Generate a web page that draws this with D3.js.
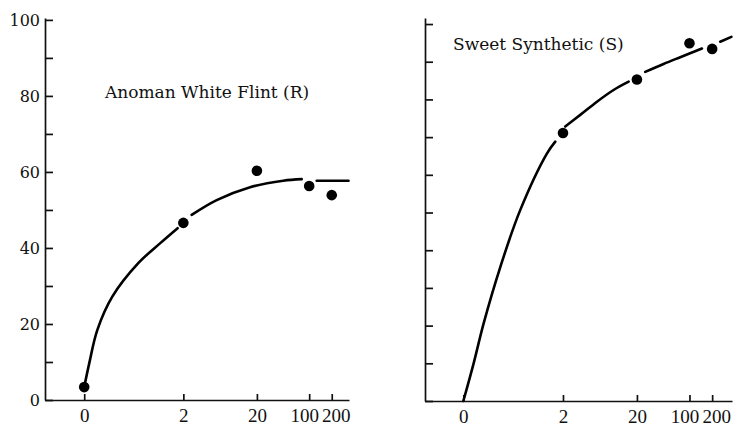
<!DOCTYPE html>
<html lang="en">
<head>
<meta charset="utf-8">
<title>Anoman White Flint / Sweet Synthetic</title>
<style>
  body { margin: 0; background: #fff; }
  svg { display: block; font-family: "DejaVu Serif", "Liberation Serif", serif; }
  .axis path, .axis line { stroke: #111; stroke-width: 1.7px; }
  .axis text { fill: #111; }
  .yaxis text { font-size: 16px; font-family: "DejaVu Serif", serif; }
  .xaxis text { font-size: 19px; font-family: "Liberation Serif", serif; }
  .curve { fill: none; stroke: #000; stroke-width: 2.6px; stroke-linecap: round; }
  .pt { fill: #000; }
  .title { font-size: 17px; fill: #111; font-family: "DejaVu Serif", serif; }
</style>
<script src="https://d3js.org/d3.v7.min.js"></script>
</head>
<body>
<script>
// x tick doses (0 plotted on log(dose + 0.1))
const doses = [0, 2, 20, 100, 200];
const doseLabels = ["0", "2", "20", "100", "200"];
const yTicks = [0, 10, 20, 30, 40, 50, 60, 70, 80, 90, 100];
const yLabels = [0, 20, 40, 60, 80, 100];

// Anoman White Flint (R)
const rDoses = [0, 2, 20, 100, 200];
const rValues = [3.4, 46.6, 60.3, 56.3, 53.9];
const rCurveDose = [0, 0.0169, 0.0494, 0.137, 0.426, 0.925, 1.66, null, 2.61, 5.75, 16.2, 45.1, 79.4, null, 126, 335];
const rCurveVal  = [3.4, 9.7, 18.4, 27.2, 36.0, 41.2, 45.2, null, 48.7, 52.6, 56.0, 57.7, 58.1, null, 57.7, 57.7];

// Sweet Synthetic (S)
const sDoses = [2, 20, 100, 200];
const sValues = [71.1, 85.3, 94.9, 93.4];
const sCurveDose = [0, 0.037, 0.086, 0.21, 0.47, 1.19, 1.56, null, 2.15, 3.46, 5.83, 9.75, 15.5, null, 25.8, 45.2, 75.4, 146.4, null, 256, 360];
const sCurveVal  = [0, 10.0, 20.6, 35.6, 50.7, 65.7, 68.8, null, 72.8, 75.9, 79.4, 82.5, 84.7, null, 87.3, 89.4, 91.2, 93.5, null, 95.3, 96.6];

const width = 740, height = 429;
const svg = d3.select("body").append("svg")
    .attr("width", width)
    .attr("height", height);

const panels = [
  { title: "Anoman White Flint (R)", tx: 105, ty: 98, labels: true,
    x: d3.scaleLog().domain([0.03, 340]).range([45, 349]),
    y: d3.scaleLinear().domain([0, 100.5]).range([400, 18]),
    pd: rDoses, pv: rValues, cd: rCurveDose, cv: rCurveVal },
  { title: "Sweet Synthetic (S)", tx: 453, ty: 50, labels: false,
    x: d3.scaleLog().domain([0.031, 367]).range([425, 732]),
    y: d3.scaleLinear().domain([0, 101.6]).range([401, 18]),
    pd: sDoses, pv: sValues, cd: sCurveDose, cv: sCurveVal }
];

panels.forEach(p => {
  const xp = d => p.x(d + 0.1);
  const x0 = p.x.range()[0];

  // y axis, ticks pointing inward
  svg.append("g")
      .attr("class", "axis yaxis")
      .attr("transform", `translate(${x0},0)`)
      .call(d3.axisLeft(p.y)
          .tickValues(yTicks)
          .tickSizeInner(-8)
          .tickSizeOuter(0)
          .tickPadding(5)
          .tickFormat(v => p.labels && yLabels.includes(v) ? v : ""));

  // x axis, ticks pointing up
  const gx = svg.append("g")
      .attr("class", "axis xaxis")
      .attr("transform", `translate(0,${p.y(0)})`)
      .call(d3.axisBottom(p.x)
          .tickValues(doses.map(d => d + 0.1))
          .tickSizeInner(-6)
          .tickSizeOuter(0)
          .tickPadding(9)
          .tickFormat((d, i) => doseLabels[i]));
  // spread the crowded 100 / 200 labels apart a little
  gx.selectAll(".tick text")
      .attr("dx", (d, i) => i === 3 ? -5 : i === 4 ? 4 : 0);

  // fitted curve, broken around the points
  const line = d3.line()
      .defined(d => d[0] !== null)
      .x(d => xp(d[0]))
      .y(d => p.y(d[1]))
      .curve(d3.curveCatmullRom);
  svg.append("path")
      .attr("class", "curve")
      .attr("d", line(d3.zip(p.cd, p.cv)));

  svg.selectAll(null)
      .data(d3.zip(p.pd, p.pv))
      .enter()
      .append("circle")
      .attr("class", "pt")
      .attr("cx", d => xp(d[0]))
      .attr("cy", d => p.y(d[1]))
      .attr("r", 5.3);

  svg.append("text")
      .attr("class", "title")
      .attr("x", p.tx)
      .attr("y", p.ty)
      .text(p.title);
});
</script>
</body>
</html>
